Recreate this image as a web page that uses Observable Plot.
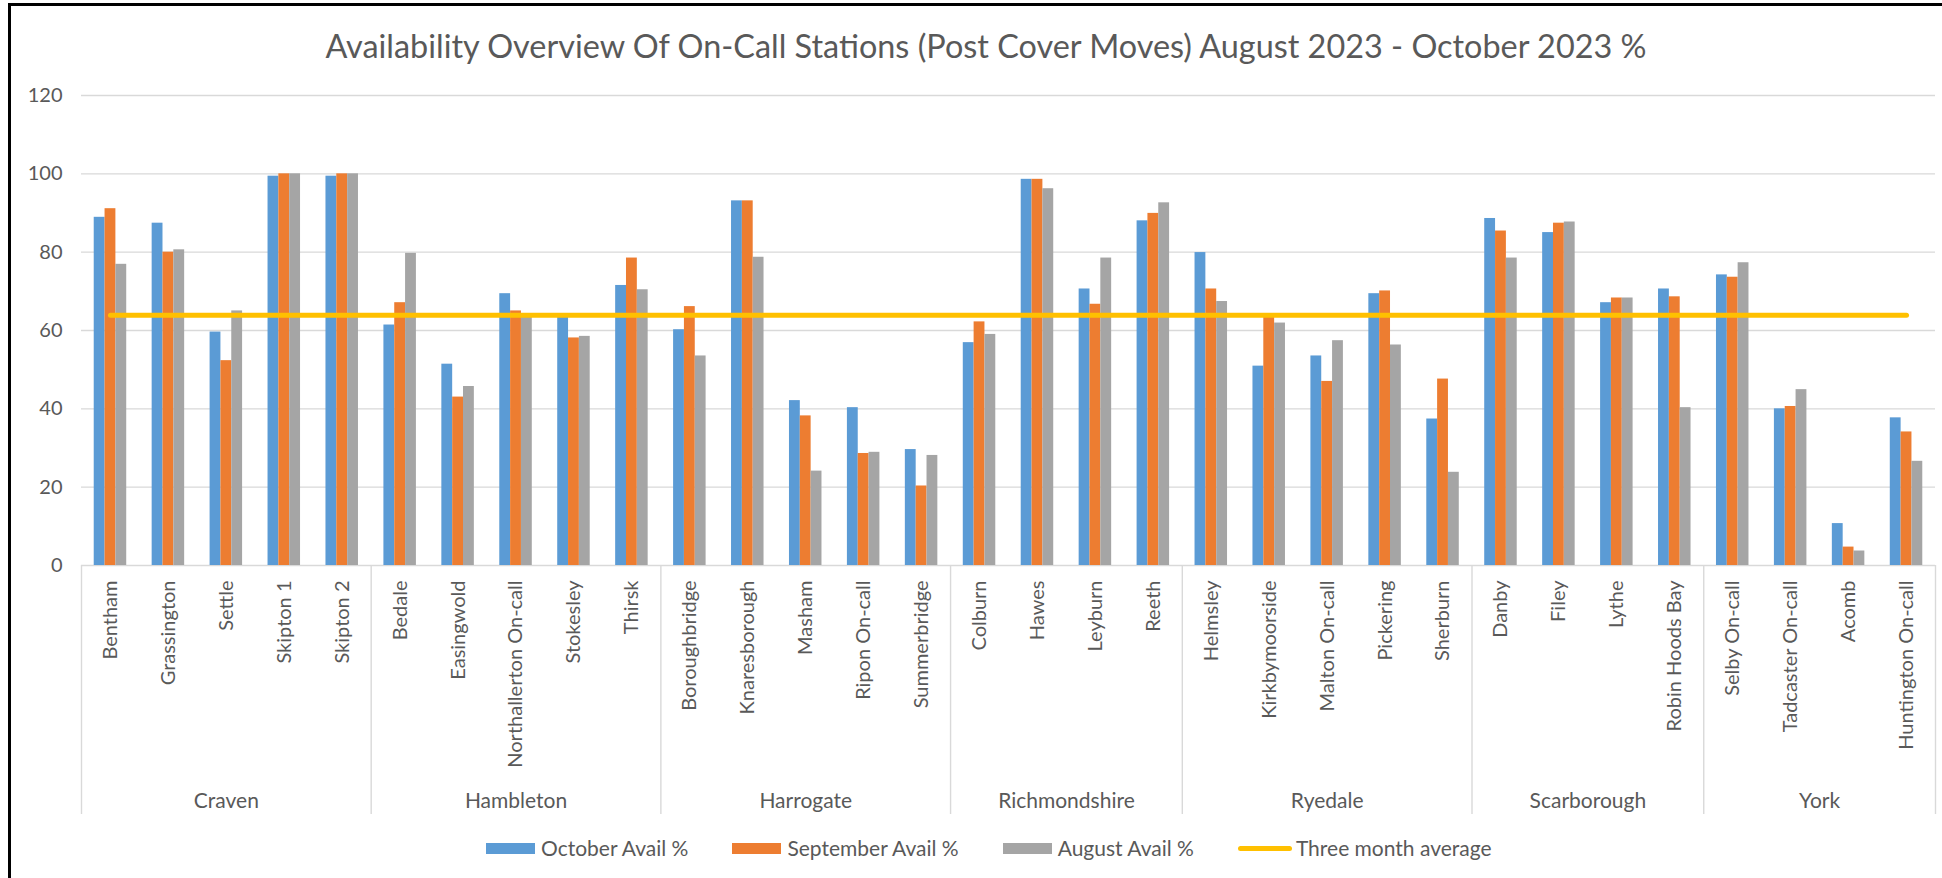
<!DOCTYPE html>
<html>
<head>
<meta charset="utf-8">
<script src="https://cdn.jsdelivr.net/npm/d3@7"></script>
<script src="https://cdn.jsdelivr.net/npm/@observablehq/plot@0.6"></script>
<style>
  body { margin: 0; background: #fff; font-family: Lato, "Open Sans", sans-serif; }
  #wrap { position: relative; width: 1942px; height: 878px; overflow: hidden; background: #fff; }
  #frame { position: absolute; left: 8px; top: 3px; right: -10px; bottom: -10px; border-left: 3px solid #000; border-top: 3px solid #000; pointer-events: none; }
  #title { position: absolute; top: 27px; left: 0; width: 1972px; text-align: center; font-size: 32.4px; line-height: 38px; color: #595959; white-space: nowrap; }
  #chart { position: absolute; top: 80px; left: 0; }
  #legend { position: absolute; top: 834px; left: 486px; display: flex; align-items: center; font-size: 21px; line-height: 28px; color: #595959; white-space: nowrap; }
  .item { display: flex; align-items: center; margin-right: 44px; }
  .sw { width: 49px; height: 11px; margin-right: 6px; }
  .ln { width: 54px; height: 5px; border-radius: 3px; margin-right: 4px; }
</style>
</head>
<body>
<div id="wrap">
  <div id="title">Availability Overview Of On-Call Stations (Post Cover Moves) August 2023 - October 2023 %</div>
  <div id="chart"></div>
  <div id="legend"></div>
  <div id="frame"></div>
</div>
<script>
// ---- data ----
const stations = [
  "Bentham", "Grassington", "Settle", "Skipton 1", "Skipton 2",
  "Bedale", "Easingwold", "Northallerton On-call", "Stokesley", "Thirsk",
  "Boroughbridge", "Knaresborough", "Masham", "Ripon On-call", "Summerbridge",
  "Colburn", "Hawes", "Leyburn", "Reeth",
  "Helmsley", "Kirkbymoorside", "Malton On-call", "Pickering", "Sherburn",
  "Danby", "Filey", "Lythe", "Robin Hoods Bay",
  "Selby On-call", "Tadcaster On-call", "Acomb", "Huntington On-call"
];
const groupNames = ["Craven", "Hambleton", "Harrogate", "Richmondshire", "Ryedale", "Scarborough", "York"];
const groupCounts = [5, 5, 5, 4, 5, 4, 4];

const october = [88.9, 87.4, 59.6, 99.4, 99.4, 61.4, 51.4, 69.4, 63.7, 71.5,
  60.2, 93.1, 42.1, 40.3, 29.6, 56.9, 98.6, 70.6, 88.0,
  79.9, 50.9, 53.5, 69.4, 37.4, 88.6, 85.0, 67.1, 70.6,
  74.2, 40.0, 10.7, 37.7];
const september = [91.1, 80.0, 52.3, 100, 100, 67.1, 43.0, 65.0, 58.1, 78.5,
  66.1, 93.1, 38.2, 28.6, 20.3, 62.2, 98.6, 66.7, 89.9,
  70.6, 63.5, 47.0, 70.1, 47.6, 85.4, 87.4, 68.3, 68.6,
  73.6, 40.6, 4.7, 34.1];
const august = [76.9, 80.6, 65.0, 100, 100, 79.7, 45.7, 64.0, 58.5, 70.4,
  53.5, 78.7, 24.1, 28.9, 28.1, 59.0, 96.2, 78.5, 92.6,
  67.4, 61.9, 57.4, 56.3, 23.8, 78.5, 87.7, 68.3, 40.3,
  77.3, 44.9, 3.7, 26.6];
const threeMonthAverage = 63.9;

const seriesNames = ["October Avail %", "September Avail %", "August Avail %"];
const seriesColors = ["#5b9bd5", "#ed7d31", "#a5a5a5"];
const lineName = "Three month average";
const lineColor = "#ffc000";
const yTicks = [0, 20, 40, 60, 80, 100, 120];

// ---- derived tables ----
const seriesValues = [october, september, august];
const barRows = [];
seriesValues.forEach((vals, k) => vals.forEach((v, i) => barRows.push({i, k, v, name: seriesNames[k]})));
const stationRows = stations.map((s, i) => ({i, s, avg: threeMonthAverage}));
const groupRows = [];
let start = 0;
groupNames.forEach((g, j) => { groupRows.push({g, start, end: start + groupCounts[j]}); start += groupCounts[j]; });
const boundaries = [0, ...groupRows.map(d => d.end)];

const barW = 0.187;                 // bar width as fraction of a category
const off = (1 - 3 * barW) / 2;     // left gap within a category

const plot = Plot.plot({
  width: 1942,
  height: 750,
  marginLeft: 81,
  marginRight: 7,
  marginTop: 15,
  marginBottom: 265,
  style: {fontFamily: "Lato, 'Open Sans', sans-serif", color: "#595959", background: "transparent"},
  x: {domain: [0, stations.length], axis: null},
  y: {domain: [0, 120]},
  color: {domain: seriesNames, range: seriesColors},
  marks: [
    Plot.gridY(yTicks, {stroke: "#d9d9d9", strokeOpacity: 1, strokeWidth: 1.4}),
    Plot.axisY({ticks: yTicks, tickSize: 0, tickPadding: 19, fontSize: 20}),
    Plot.ruleX(boundaries, {x: d => d, y1: 0, y2: 0, insetBottom: -249, stroke: "#d9d9d9", strokeWidth: 1.4}),
    Plot.rectY(barRows, {
      x1: d => d.i + off + d.k * barW,
      x2: d => d.i + off + (d.k + 1) * barW,
      y: "v",
      fill: "name"
    }),
    Plot.lineY(stationRows, {x: d => d.i + 0.5, y: "avg", stroke: lineColor, strokeWidth: 5, strokeLinecap: "round"}),
    Plot.text(stationRows, {
      x: d => d.i + 0.5, y: 0, text: "s", rotate: -90, textAnchor: "end",
      dy: 15, fontSize: 20, fill: "#595959", letterSpacing: 0.5
    }),
    Plot.text(groupRows, {
      x: d => (d.start + d.end) / 2, y: 0, text: "g",
      dy: 236, fontSize: 21, fill: "#595959"
    })
  ]
});
document.getElementById("chart").appendChild(plot);

// ---- legend ----
const legend = document.getElementById("legend");
seriesNames.forEach((n, k) => {
  const it = document.createElement("div");
  it.className = "item";
  it.innerHTML = `<span class="sw" style="background:${seriesColors[k]}"></span><span>${n}</span>`;
  legend.appendChild(it);
});
const li = document.createElement("div");
li.className = "item";
li.innerHTML = `<span class="ln" style="background:${lineColor}"></span><span>${lineName}</span>`;
legend.appendChild(li);
</script>
</body>
</html>
